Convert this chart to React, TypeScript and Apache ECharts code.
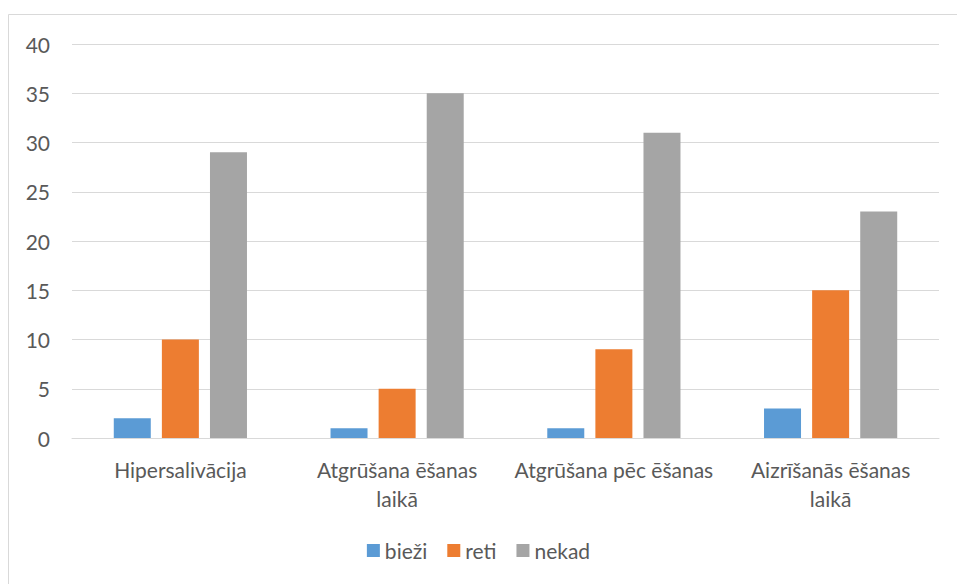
import React, { useEffect, useRef } from "react";
import * as echarts from "echarts";

const categories = [
  "Hipersalivācija",
  "Atgrūšana ēšanas laikā",
  "Atgrūšana pēc ēšanas",
  "Aizrīšanās ēšanas laikā",
];
const biezi = [2, 1, 1, 3];
const reti = [10, 5, 9, 15];
const nekad = [29, 35, 31, 23];
const seriesNames = ["bieži", "reti", "nekad"];
const colors = ["#5B9BD5", "#ED7D31", "#A5A5A5"];

function wrapLabel(s: string): string {
  if (s.length <= 21) return s;
  const i = s.lastIndexOf(" ");
  return i > 0 ? s.slice(0, i) + "\n" + s.slice(i + 1) : s;
}

export default function App() {
  const ref = useRef<HTMLDivElement>(null);
  useEffect(() => {
    if (!ref.current) return;
    const chart = echarts.init(ref.current, undefined, { renderer: "svg" });
    const font = "Lato, Calibri, 'Open Sans', sans-serif";
    const values = [biezi, reti, nekad];
    chart.setOption({
      animation: false,
      backgroundColor: "#ffffff",
      textStyle: { fontFamily: font },
      graphic: [
        {
          type: "rect",
          shape: { x: 8.5, y: 14.5, width: 960, height: 600 },
          style: { fill: "none", stroke: "#d9d9d9", lineWidth: 1 },
          silent: true,
        },
      ],
      grid: { left: 72, right: 18, top: 44, bottom: 146 },
      legend: {
        bottom: 18,
        left: "center",
        itemWidth: 13,
        itemHeight: 13,
        itemGap: 20,
        icon: "rect",
        textStyle: { color: "#595959", fontSize: 21, fontFamily: font },
        data: seriesNames,
      },
      xAxis: {
        type: "category",
        data: categories,
        axisLine: { show: true, lineStyle: { color: "#d9d9d9", width: 1 } },
        axisTick: { show: false },
        axisLabel: {
          color: "#595959",
          fontSize: 21,
          fontFamily: font,
          margin: 17,
          lineHeight: 29,
          interval: 0,
          formatter: (v: string) => wrapLabel(v),
        },
      },
      yAxis: {
        type: "value",
        min: 0,
        max: 40,
        interval: 5,
        axisLine: { show: false },
        axisTick: { show: false },
        splitLine: { lineStyle: { color: "#d9d9d9", width: 1 } },
        axisLabel: {
          color: "#595959",
          fontSize: 21,
          fontFamily: font,
          margin: 22,
        },
      },
      series: seriesNames.map((name, i) => ({
        name,
        type: "bar",
        data: values[i],
        barWidth: 37,
        barGap: "30%",
        itemStyle: { color: colors[i] },
      })),
    });
    return () => chart.dispose();
  }, []);
  return (
    <div
      ref={ref}
      style={{ position: "absolute", left: 0, top: 0, width: 957, height: 584 }}
    />
  );
}
